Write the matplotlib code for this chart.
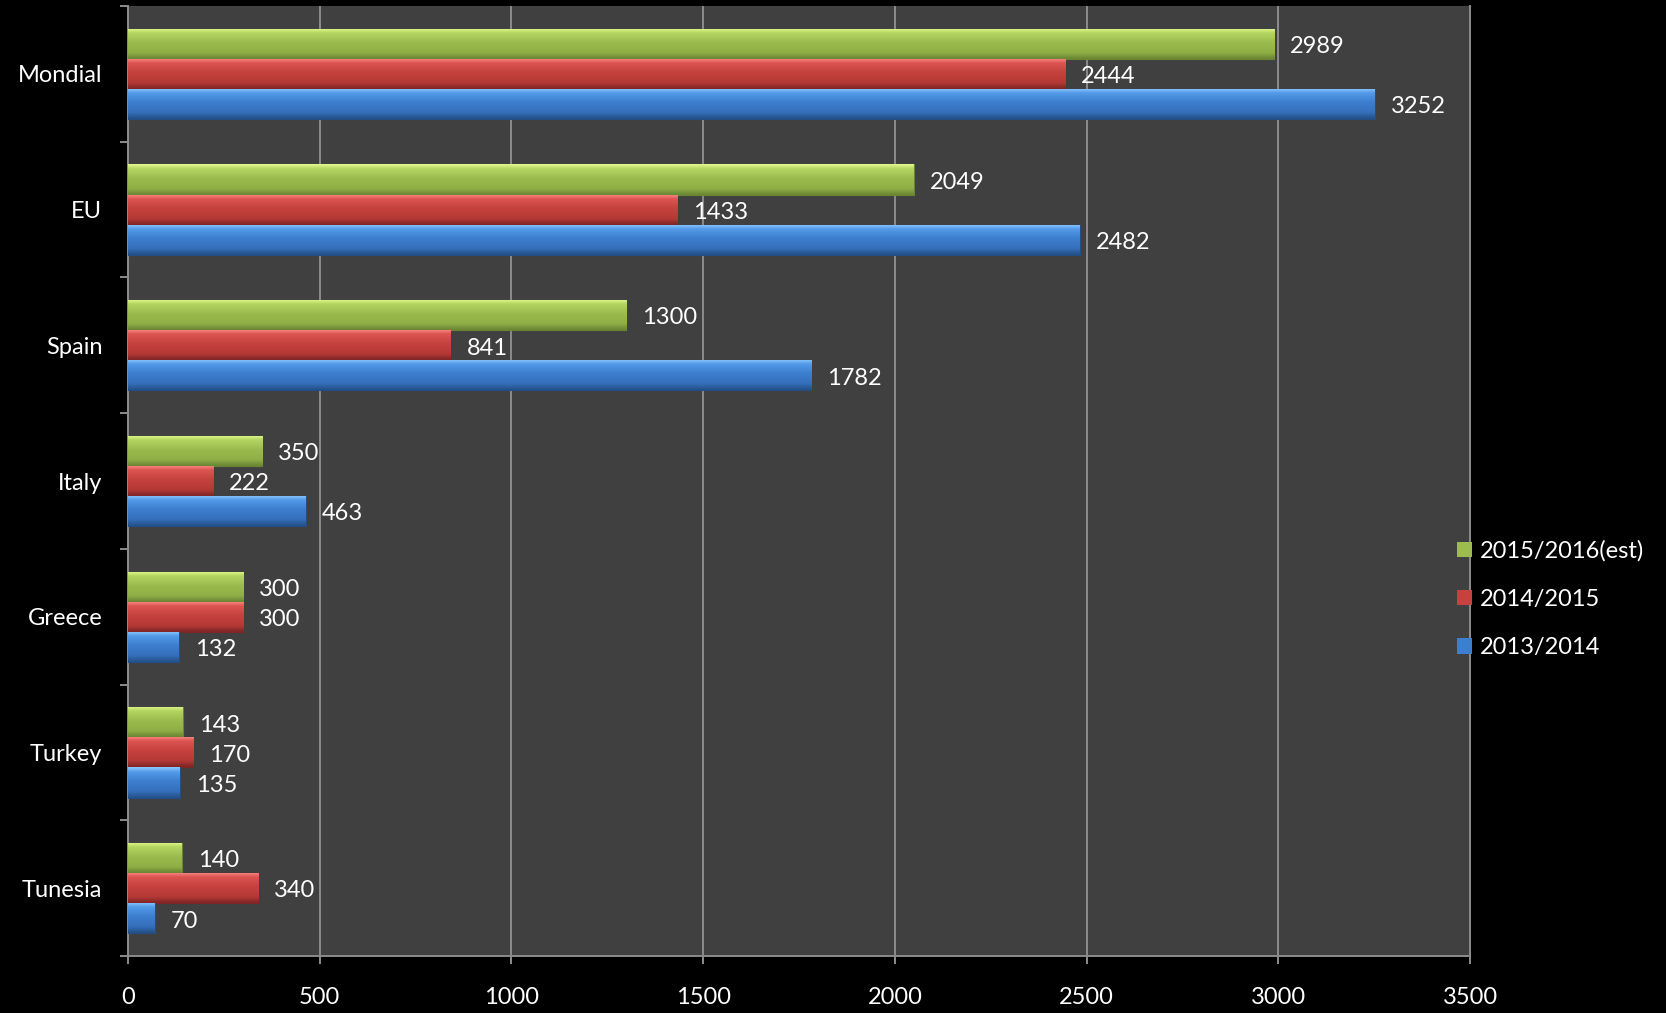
import numpy as np
import matplotlib.pyplot as plt
from matplotlib.colors import LinearSegmentedColormap
from matplotlib.patches import Patch

plt.rcParams['font.family'] = ['Lato', 'DejaVu Sans']

regions = ['Mondial', 'EU', 'Spain', 'Italy', 'Greece', 'Turkey', 'Tunesia']
seasons = ['2015/2016(est)', '2014/2015', '2013/2014']
prod_1516 = [2989, 2049, 1300, 350, 300, 143, 140]
prod_1415 = [2444, 1433, 841, 222, 300, 170, 340]
prod_1314 = [3252, 2482, 1782, 463, 132, 135, 70]

# light top edge -> body -> dark bottom edge, per series
shades = {
    '2015/2016(est)': ['#e2f98c', '#b5d562', '#9cbc4f', '#8fae45', '#6a8534'],
    '2014/2015': ['#ff8a86', '#dc5552', '#c6423f', '#b53936', '#7f2624'],
    '2013/2014': ['#8ec8ff', '#539be8', '#3d7fcf', '#356fba', '#244f86'],
}
base = {k: v[2] for k, v in shades.items()}

fig = plt.figure(figsize=(16.66, 10.13), dpi=100, facecolor='black')
ax = fig.add_axes([128 / 1666, 1 - 956 / 1013, (1470 - 128) / 1666, (956 - 6) / 1013])
ax.set_facecolor('#404040')

y = np.arange(len(regions))
h = 0.222
grad = np.linspace(0, 1, 64).reshape(-1, 1)

for off, name, vals in [(-h, seasons[0], prod_1516), (0, seasons[1], prod_1415), (h, seasons[2], prod_1314)]:
    cmap = LinearSegmentedColormap.from_list(name, list(zip([0, 0.15, 0.45, 0.8, 1.0], shades[name])))
    bars = ax.barh(y + off, vals, height=h, color=base[name], edgecolor=shades[name][-1],
                   linewidth=0.8, zorder=3)
    for b, v in zip(bars, vals):
        yc = b.get_y() + b.get_height() / 2
        im = ax.imshow(grad, cmap=cmap, aspect='auto', interpolation='bilinear',
                       extent=(0, v, yc + h / 2, yc - h / 2), zorder=3.5)
        im.set_clip_path(b)
        ax.annotate(str(v), (v, yc), xytext=(11.5, -2), textcoords='offset points',
                    va='center', ha='left', color='white', fontsize=17, zorder=5)

ax.set_xlim(0, 3500)
ax.set_ylim(len(regions) - 0.5, -0.5)
ax.set_xticks(np.arange(0, 3501, 500))
ax.set_yticks(y)
ax.set_yticklabels(regions)
ax.set_yticks(np.arange(-0.5, len(regions), 1), minor=True)

grid_c = '#8c8c8c'
ax.grid(axis='x', color=grid_c, linewidth=1.4, zorder=1)
ax.set_axisbelow(True)
for s in ['left', 'bottom', 'right']:
    ax.spines[s].set_color(grid_c)
    ax.spines[s].set_linewidth(1.4)
ax.spines['top'].set_visible(False)

ax.tick_params(axis='x', colors=grid_c, labelcolor='white', labelsize=17,
               length=6, width=1.4, pad=16)
ax.tick_params(axis='y', which='major', length=0, labelcolor='white', labelsize=17, pad=18.5)
ax.tick_params(axis='y', which='minor', colors=grid_c, length=6, width=1.4)

handles = [Patch(facecolor=base[s], edgecolor='none') for s in seasons]
fig.legend(handles, seasons, loc='upper left', bbox_to_anchor=(1457 / 1666, 1 - 540 / 1013),
           frameon=False, fontsize=17, labelcolor='white', handlelength=0.62,
           handleheight=0.62, handletextpad=0.35, labelspacing=1.16, borderpad=0,
           borderaxespad=0)

fig.savefig('out.png', dpi=100, facecolor='black')
